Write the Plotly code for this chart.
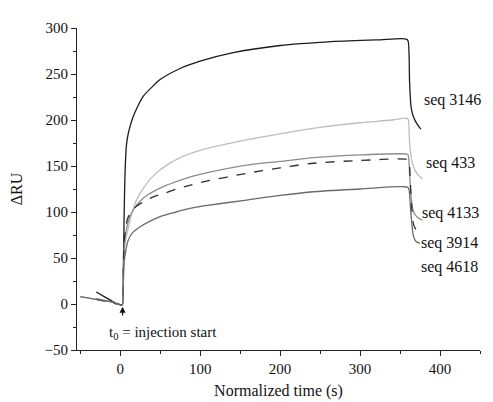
import plotly.graph_objects as go

# ---- data ----
t_3146 = [-30, -20, -10, -3, 2, 3, 4, 5, 6, 7, 8, 10, 13, 16, 22, 29, 40, 50, 75, 100, 140, 200, 260, 320, 358, 360, 362, 364, 367, 371, 376]
v_3146 = [13, 8, 3, 0, -1, 0, 40, 100, 140, 162, 174, 185, 195, 203, 215, 226, 236, 244, 256, 264, 273, 281, 285, 287, 288, 286, 240, 213, 203, 196, 190]

t_433 = [-50, -30, -10, -3, 2, 3, 4, 5, 7, 10, 14, 21, 30, 41, 60, 80, 100, 150, 200, 250, 300, 340, 358, 360, 362, 365, 369, 374, 378]
v_433 = [8, 5, 2, 0, -1, 0, 30, 55, 70, 82, 97, 114, 127, 139, 152, 161, 167, 177, 185, 192, 197, 200, 202, 201, 175, 155, 145, 139, 136]

t_4133 = [-30, -20, -10, -3, 2, 3, 4, 5, 6, 8.5, 12, 17, 25, 35, 50, 70, 87, 100, 158, 200, 242, 300, 358, 360, 362, 364, 367, 372, 378]
v_4133 = [6, 4, 2, 0, -1, 0, 35, 60, 72, 84, 95, 103, 112, 119, 126, 133, 138, 141, 151, 155, 159, 162, 163, 162, 140, 115, 100, 94, 91]

t_3914 = [-30, -20, -10, -3, 2, 3, 4, 5, 7, 9, 12.5, 20, 29, 40, 54, 70, 87, 100, 158, 200, 242, 300, 359, 361, 363, 365, 367, 370, 374]
v_3914 = [5, 3, 1, 0, -1, 0, 40, 68, 83, 92, 99, 106, 111, 116, 120, 125, 129, 132, 142, 148, 153, 156, 157, 155, 130, 100, 86, 81, 79]

t_4618 = [-50, -30, -10, -3, 2, 3, 4, 5, 7, 10, 15, 25, 35, 50, 70, 87, 100, 158, 200, 242, 300, 359, 361, 363, 365, 367, 370, 375]
v_4618 = [8, 5, 2, 0, -1, 0, 25, 45, 58, 69, 77, 84, 89, 95, 100, 104, 106, 113, 118, 122, 125, 127, 125, 105, 85, 73, 68, 66]

series_names = ["seq 3146", "seq 433", "seq 4133", "seq 3914", "seq 4618"]
label_x = [378, 380, 375, 374, 374]
label_y = [222, 153, 99, 66, 40]

x_ticks = [0, 100, 200, 300, 400]
y_ticks = [-50, 0, 50, 100, 150, 200, 250, 300]

# ---- figure ----
FONT = "Liberation Serif, Times New Roman, serif"
TXT = "#111"
styles = [
    dict(color="#1c1c1c", width=1.3, dash="solid"),
    dict(color="#bdbdbd", width=1.3, dash="solid"),
    dict(color="#8c8c8c", width=1.3, dash="solid"),
    dict(color="#2e2e2e", width=1.3, dash="dash"),
    dict(color="#6a6a6a", width=1.3, dash="solid"),
]
data = [(t_3146, v_3146), (t_433, v_433), (t_4133, v_4133), (t_3914, v_3914), (t_4618, v_4618)]

fig = go.Figure()
for (tx, vy), nm, st in zip(data, series_names, styles):
    fig.add_trace(go.Scatter(x=tx, y=vy, mode="lines", name=nm,
                             line=dict(shape="spline", smoothing=0.8, **st)))

annotations = []
for nm, lx, ly in zip(series_names, label_x, label_y):
    annotations.append(dict(x=lx, y=ly, xref="x", yref="y", text=nm, showarrow=False,
                            xanchor="left", yanchor="middle",
                            font=dict(family=FONT, size=16, color=TXT)))
annotations.append(dict(x=3, y=-3, ax=3, ay=-14, xref="x", yref="y", axref="x", ayref="y",
                        text="", showarrow=True, arrowhead=2, arrowsize=1, arrowwidth=1.2,
                        arrowcolor="#111"))
annotations.append(dict(x=54, y=-31, xref="x", yref="y", text="t<sub>0</sub> = injection start",
                        showarrow=False, font=dict(family=FONT, size=15, color=TXT)))

# page body has an 8px margin, so the figure is sized to fit the 493x402 window
fig.update_layout(
    width=485, height=394,
    margin=dict(l=69, r=13, t=20, b=52),
    paper_bgcolor="white", plot_bgcolor="white",
    showlegend=False,
    font=dict(family=FONT, size=15, color=TXT),
    annotations=annotations,
)
fig.update_xaxes(
    range=[-54, 450], tickvals=x_ticks, ticks="outside", ticklen=5, tickwidth=1, tickcolor="#222",
    showline=True, linecolor="#222", linewidth=1, showgrid=False, zeroline=False, automargin=False,
    minor=dict(dtick=50, tick0=-50, ticks="outside", ticklen=3, tickcolor="#222", showgrid=False),
    title=dict(text="Normalized time (s)", font=dict(family=FONT, size=16, color=TXT), standoff=8),
    tickfont=dict(family=FONT, size=15, color=TXT),
)
fig.update_yaxes(
    range=[-50, 300], tickvals=y_ticks, ticks="outside", ticklen=5, tickwidth=1, tickcolor="#222",
    showline=True, linecolor="#222", linewidth=1, showgrid=False, zeroline=False, automargin=False,
    minor=dict(dtick=25, tick0=-50, ticks="outside", ticklen=3, tickcolor="#222", showgrid=False),
    title=dict(text="ΔRU", font=dict(family=FONT, size=16, color=TXT), standoff=18),
    tickfont=dict(family=FONT, size=15, color=TXT),
)

fig.write_html("out.html")
